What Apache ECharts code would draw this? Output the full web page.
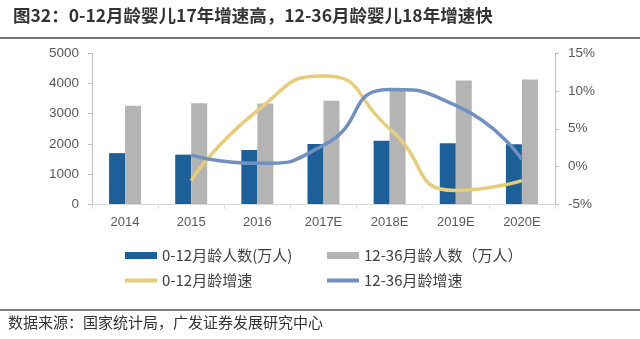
<!DOCTYPE html>
<html><head><meta charset="utf-8">
<script src="https://cdn.jsdelivr.net/npm/echarts@6/dist/echarts.min.js"></script>
<style>html,body{margin:0;padding:0;background:#fff}#c{width:640px;height:339px}</style>
</head><body><div id="c"></div>
<script>
const categories = ['2014','2015','2016','2017E','2018E','2019E','2020E'];
const infants0to12 = [1690, 1640, 1795, 1995, 2100, 2015, 1985];
const toddlers12to36 = [3265, 3345, 3340, 3430, 3790, 4100, 4140];
const growth0to12 = ['-', -1.9, 7.4, 12.0, 5.0, -3.2, -1.9];
const growth12to36 = ['-', 1.5, 0.4, 2.8, 10.2, 8.1, 0.9];
const names = ['0-12月龄人数(万人)', '12-36月龄人数（万人）', '0-12月龄增速', '12-36月龄增速'];
const titleText = '图32：0-12月龄婴儿17年增速高，12-36月龄婴儿18年增速快';
const sourceText = '数据来源：国家统计局，广发证券发展研究中心';

const chart = echarts.init(document.getElementById('c'), null, {renderer: 'canvas'});
const cjk = '"Noto Sans CJK SC", sans-serif';
const legendText = {color: '#404040', fontSize: 15, fontFamily: '"Noto Sans CJK SC", serif'};
function leg(name, left, top, w, h, icon) {
  return {data: [name], left: left, top: top, itemWidth: w, itemHeight: h, itemGap: 0,
    icon: icon, textStyle: legendText, padding: 0, selectedMode: false};
}
chart.setOption({
  animation: false,
  title: {text: titleText, left: 8, top: 2,
    textStyle: {fontSize: 17.5, fontWeight: 'bold', color: '#333', fontFamily: cjk}},
  graphic: [
    {type: 'line', shape: {x1: 0, y1: 38, x2: 640, y2: 38}, style: {stroke: '#444', lineWidth: 1.5}},
    {type: 'line', shape: {x1: 0, y1: 310, x2: 640, y2: 310}, style: {stroke: '#555', lineWidth: 1.5}},
    {type: 'text', left: 8, top: 315, style: {text: sourceText, fill: '#333',
      font: '15px "Noto Sans CJK SC", serif'}}
  ],
  legend: [
    leg(names[0], 125, 248, 32, 7, 'rect'),
    leg(names[1], 327, 248, 32, 7, 'rect'),
    leg(names[2], 125, 273, 32, 4, 'rect'),
    leg(names[3], 327, 273, 32, 4, 'rect')
  ],
  grid: {left: 92, right: 85, top: 53.5, bottom: 135},
  xAxis: {type: 'category', data: categories, boundaryGap: true,
    axisLine: {lineStyle: {color: '#d9d9d9'}},
    axisTick: {show: true, length: 5, lineStyle: {color: '#d9d9d9'}},
    axisLabel: {color: '#595959', fontSize: 13, margin: 12, fontFamily: 'Liberation Sans, Arial, sans-serif'}},
  yAxis: [
    {type: 'value', min: 0, max: 5000, interval: 1000,
      axisLine: {show: true, lineStyle: {color: '#bfbfbf'}},
      axisTick: {show: true, length: 4, lineStyle: {color: '#bfbfbf'}},
      splitLine: {show: false},
      axisLabel: {color: '#595959', fontSize: 13.5, margin: 13, formatter: function (v) { return String(v); },
        fontFamily: 'Liberation Sans, Arial, sans-serif'}},
    {type: 'value', min: -5, max: 15, interval: 5, position: 'right',
      axisLine: {show: true, lineStyle: {color: '#bfbfbf'}},
      axisTick: {show: true, length: 4, lineStyle: {color: '#bfbfbf'}},
      splitLine: {show: false},
      axisLabel: {color: '#595959', fontSize: 13.5, margin: 13, formatter: '{value}%', fontFamily: 'Liberation Sans, Arial, sans-serif'}}
  ],
  series: [
    {name: names[0], type: 'bar', data: infants0to12, barWidth: 16, barGap: '0%', itemStyle: {color: '#1d5f98'}},
    {name: names[1], type: 'bar', data: toddlers12to36, barWidth: 16, barGap: '0%', itemStyle: {color: '#b4b4b4'}},
    {name: names[2], type: 'line', yAxisIndex: 1, data: growth0to12, smooth: 0.6, showSymbol: false,
      lineStyle: {color: '#e8cd78', width: 3.5}, itemStyle: {color: '#e8cd78'}},
    {name: names[3], type: 'line', yAxisIndex: 1, data: growth12to36, smooth: 0.6, showSymbol: false,
      lineStyle: {color: '#7090c2', width: 3.5}, itemStyle: {color: '#7090c2'}}
  ]
});
</script></body></html>
